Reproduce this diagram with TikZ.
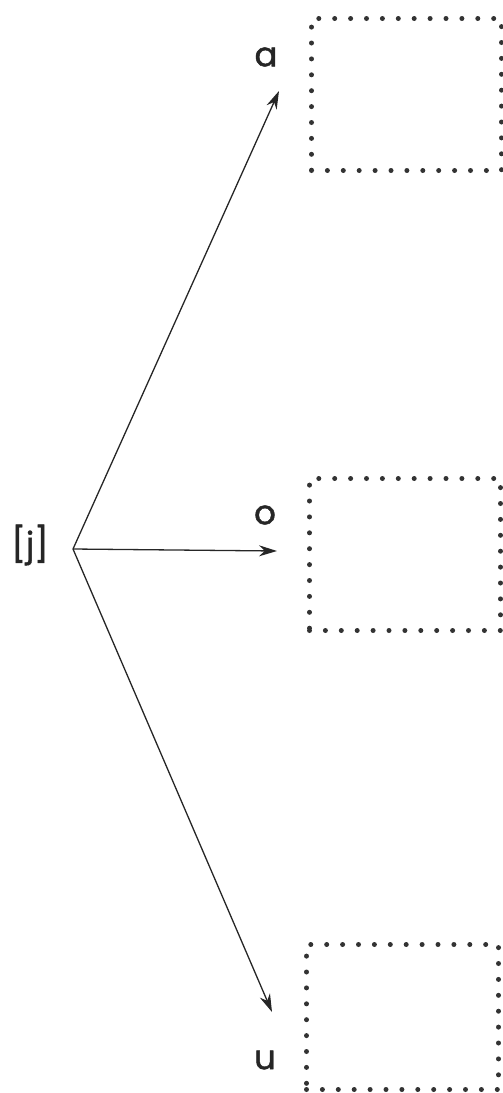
\documentclass[tikz,border=0pt]{standalone}
\usepackage{fontspec}
\setmainfont{Poppins}
\newfontfamily\lblfont{Poppins}[FakeBold=1.3]
\usetikzlibrary{arrows.meta}
\begin{document}
\begin{tikzpicture}[x={(1pt,0pt)},y={(0pt,-1pt)},
 lbl/.style={inner sep=0pt, text=black!85, font=\lblfont\fontsize{34}{40}\selectfont},
 answerbox/.style={draw=black!80, line width=5pt, dash pattern=on 0pt off 15.9pt, line cap=round, rectangle, inner sep=0pt, anchor=north west},
 conn/.style={line width=1.3pt, draw=black!85, -{Stealth[length=18pt,width=11pt]}}]
\useasboundingbox (0,0) rectangle (503,1093);
\node[answerbox, minimum width=190pt, minimum height=152pt] (boxA) at (309,16) {};
\node[answerbox, minimum width=191pt, minimum height=152pt] (boxO) at (307,476) {};
\node[answerbox, minimum width=192pt, minimum height=145pt] (boxU) at (304,942) {};
\node[lbl] (j) at (30,545) {[j]};
\node[lbl] (la) at (266,57) {a};
\node[lbl] (lo) at (265,515) {o};
\node[lbl] (lu) at (265,1060) {u};
\coordinate (J) at (73,549);
\coordinate (tA) at (279,91);
\coordinate (tO) at (277,551);
\coordinate (tU) at (272,1012);
\draw[conn] (J) -- (tA);
\draw[conn] (J) -- (tO);
\draw[conn] (J) -- (tU);
\end{tikzpicture}
\end{document}
